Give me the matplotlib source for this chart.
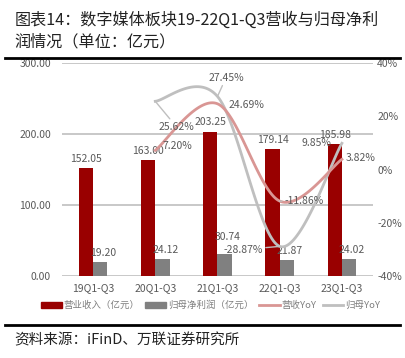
import matplotlib.pyplot as plt
from matplotlib.lines import Line2D
from matplotlib.patches import Patch
import numpy as np

plt.rcParams['font.family'] = ['Noto Sans CJK SC', 'DejaVu Sans']

categories = ['19Q1-Q3', '20Q1-Q3', '21Q1-Q3', '22Q1-Q3', '23Q1-Q3']
revenue = [152.05, 163.00, 203.25, 179.14, 185.98]
net_profit = [19.20, 24.12, 30.74, 21.87, 24.02]
rev_yoy = [7.20, 24.69, -11.86, 3.82]          # from 20Q1-Q3
profit_yoy = [25.62, 27.45, -28.87, 9.85]      # from 20Q1-Q3

RED = '#990000'
GRAY_BAR = '#808080'
PINK = '#D99694'
GRAY_LINE = '#BFBFBF'
TXT = '#595959'


def smooth(xs, ys, n=40):
    # bezier smoothing like office charts (catmull-rom, tension 1/6)
    pts = np.column_stack([xs, ys]).astype(float)
    ext = np.vstack([pts[0], pts, pts[-1]])
    out = []
    for i in range(len(pts) - 1):
        p0, p1, p2, p3 = ext[i], ext[i + 1], ext[i + 2], ext[i + 3]
        c1 = p1 + (p2 - p0) / 6
        c2 = p2 - (p3 - p1) / 6
        t = np.linspace(0, 1, n)[:, None]
        seg = (1 - t) ** 3 * p1 + 3 * (1 - t) ** 2 * t * c1 + 3 * (1 - t) * t ** 2 * c2 + t ** 3 * p2
        out.append(seg)
    out = np.vstack(out)
    return out[:, 0], out[:, 1]


fig = plt.figure(figsize=(4.05, 3.58), dpi=100)
ax = fig.add_axes([0.153, 0.229, 0.768, 0.595])
ax2 = ax.twinx()

x = np.arange(len(categories))
w = 0.23
ax.bar(x - w / 2, revenue, w, color=RED, zorder=2)
ax.bar(x + w / 2, net_profit, w, color=GRAY_BAR, zorder=2)
ax.set_xlim(-0.5, 4.5)
ax.set_ylim(0, 300)
ax.set_yticks([0, 100, 200, 300])
ax.set_yticklabels(['0.00', '100.00', '200.00', '300.00'])
ax.set_xticks(x)
ax.set_xticklabels(categories)
ax.grid(axis='y', color='#BFBFBF', lw=1.2, zorder=0)
ax.set_axisbelow(True)
for a in (ax, ax2):
    for s in a.spines.values():
        s.set_visible(False)
    a.tick_params(length=0, labelsize=7.5, colors=TXT)
ax.tick_params(axis='y', pad=8)
ax.tick_params(axis='x', pad=5)

for i in range(len(categories)):
    ax.text(x[i] - w / 2, revenue[i] + 6, '%.2f' % revenue[i], ha='center', va='bottom', fontsize=7.5, color=TXT)
    off = 17 if i == 2 else 6
    ax.text(x[i] + w / 2 + 0.05, net_profit[i] + off, '%.2f' % net_profit[i], ha='center', va='bottom',
            fontsize=7.5, color=TXT)

ax2.set_ylim(-40, 40)
ax2.set_yticks([-40, -20, 0, 20, 40])
ax2.set_yticklabels(['-40%', '-20%', '0%', '20%', '40%'])
ax2.tick_params(axis='y', pad=3)

xl = x[1:]
sx, sy = smooth(xl, profit_yoy)
ax2.plot(sx, sy, color=GRAY_LINE, lw=2, zorder=3)
sx, sy = smooth(xl, rev_yoy)
ax2.plot(sx, sy, color=PINK, lw=2, zorder=4)

lp = dict(fontsize=7.5, color=TXT, zorder=5)
arr = dict(arrowstyle='-', color=GRAY_LINE, lw=1, shrinkA=0, shrinkB=0)
# revenue yoy labels
ax2.annotate('%.2f%%' % rev_yoy[0], (xl[0], rev_yoy[0]), xytext=(xl[0] + 0.12, rev_yoy[0] + 1.5), va='center', **lp)
ax2.annotate('%.2f%%' % rev_yoy[1], (xl[1], rev_yoy[1]), xytext=(xl[1] + 0.17, rev_yoy[1] - 0.5), va='center', **lp)
ax2.annotate('%.2f%%' % rev_yoy[2], (xl[2], rev_yoy[2]), xytext=(xl[2] + 0.08, rev_yoy[2]), va='center',
             arrowprops=arr, **lp)
ax2.annotate('%.2f%%' % rev_yoy[3], (xl[3], rev_yoy[3]), xytext=(xl[3] + 0.06, rev_yoy[3] + 0.5), va='center', **lp)
# profit yoy labels
ax2.annotate('%.2f%%' % profit_yoy[0], (xl[0], profit_yoy[0]), xytext=(xl[0] + 0.05, profit_yoy[0] - 9.5),
             va='center', arrowprops=arr, **lp)
ax2.annotate('%.2f%%' % profit_yoy[1], (xl[1], profit_yoy[1]), xytext=(xl[1] - 0.15, profit_yoy[1] + 7),
             va='center', arrowprops=arr, **lp)
ax2.annotate('%.2f%%' % profit_yoy[2], (xl[2], profit_yoy[2]), xytext=(xl[2] - 0.9, profit_yoy[2] - 1.2),
             va='center', arrowprops=arr, **lp)
ax2.annotate('%.2f%%' % profit_yoy[3], (xl[3], profit_yoy[3]), xytext=(xl[3] - 0.65, profit_yoy[3]),
             va='center', **lp)

handles = [Patch(color=RED), Patch(color=GRAY_BAR),
           Line2D([], [], color=PINK, lw=2), Line2D([], [], color=GRAY_LINE, lw=2)]
labels = ['营业收入（亿元）', '归母净利润（亿元）', '营收YoY', '归母YoY']
fig.legend(handles, labels, loc='center', bbox_to_anchor=(0.52, 0.148), ncol=4, frameon=False,
           fontsize=6.8, labelcolor='#7F7F7F', handlelength=2.2, handleheight=0.6, handletextpad=0.2,
           columnspacing=0.6)

fig.text(0.035, 0.944, '图表14：数字媒体板块19-22Q1-Q3营收与归母净利', fontsize=11.6, ha='left', va='center', color='#222222')
fig.text(0.035, 0.883, '润情况（单位：亿元）', fontsize=11.6, ha='left', va='center', color='#222222')
fig.add_artist(Line2D([0.012, 0.988], [0.838, 0.838], color='black', lw=2))
fig.add_artist(Line2D([0.012, 0.988], [0.092, 0.092], color='black', lw=2))
fig.text(0.035, 0.05, '资料来源：iFinD、万联证券研究所', fontsize=10.5, style='italic', ha='left', va='center', color='#222222')

fig.savefig('out.png', dpi=100)
